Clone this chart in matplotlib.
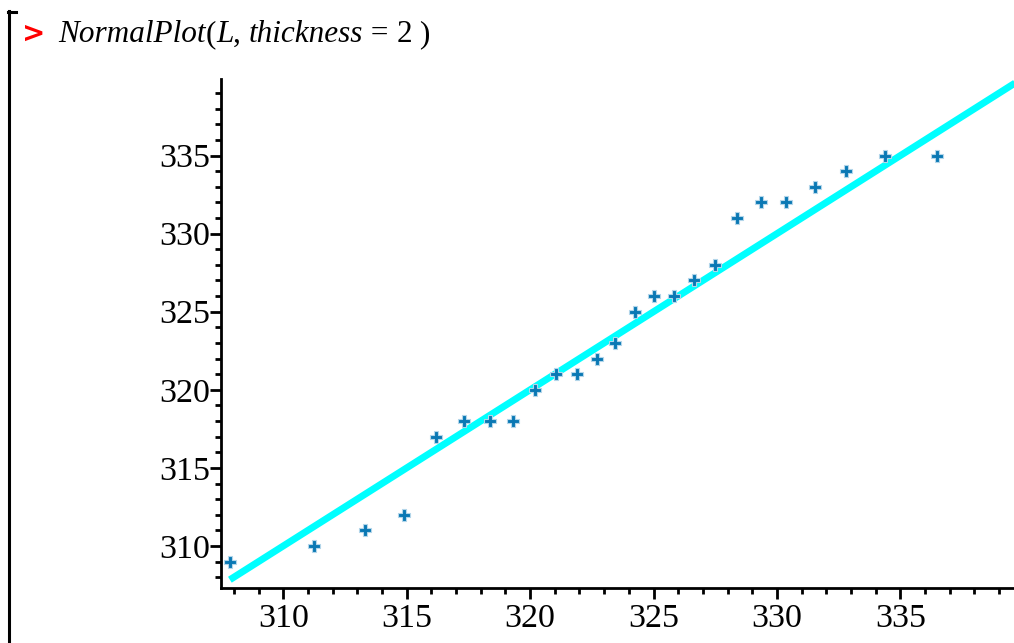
import matplotlib.pyplot as plt
from matplotlib.ticker import MultipleLocator
from matplotlib.lines import Line2D

# normal quantiles (scaled) vs sorted sample L
quantiles = [307.83, 311.26, 313.32, 314.90, 316.19, 317.33, 318.38, 319.32,
             320.20, 321.05, 321.89, 322.70, 323.44, 324.25, 325.03, 325.83,
             326.65, 327.49, 328.40, 329.37, 330.37, 331.52, 332.80, 334.38,
             336.50]
L = [309, 310, 311, 312, 317, 318, 318, 318, 320, 321, 321, 322, 323,
     325, 326, 326, 327, 328, 331, 332, 332, 333, 334, 335, 335]
line_x = [307.84, 341.0]
line_y = [307.84, 341.0]
major_ticks = [310, 315, 320, 325, 330, 335]

serif = 'Liberation Serif'

fig = plt.figure(figsize=(10.14, 6.43), dpi=100)
ax = fig.add_axes([221 / 1014, 55 / 643, 1 - 221 / 1014, (588 - 79) / 643])

ax.plot(line_x, line_y, color='#00ffff', lw=5, solid_capstyle='butt', zorder=2)
ax.plot(quantiles, L, ls='none', marker='P', ms=8, mfc='#0a78b4',
        mec='#b3d6ea', mew=0.8, zorder=3)

ax.set_xlim(307.48, 339.6)
ax.set_ylim(307.31, 339.9)

for s in ['top', 'right']:
    ax.spines[s].set_visible(False)
for s in ['left', 'bottom']:
    ax.spines[s].set_linewidth(2)
    ax.spines[s].set_color('black')

ax.set_xticks(major_ticks)
ax.set_yticks(major_ticks)
ax.xaxis.set_minor_locator(MultipleLocator(1))
ax.yaxis.set_minor_locator(MultipleLocator(1))
ax.tick_params(which='major', length=8, width=2, color='black')
ax.tick_params(which='minor', length=4, width=2, color='black')
ax.tick_params(axis='x', which='major', pad=3)
ax.tick_params(axis='y', which='major', pad=0)
for lab in ax.get_xticklabels() + ax.get_yticklabels():
    lab.set_fontfamily(serif)
    lab.set_fontsize(24.5)

# Maple prompt line
fig.text(22 / 1014, 1 - 42 / 643, '>', color='#ff0000', fontsize=20,
         fontweight='bold', family='DejaVu Sans', va='baseline')

pieces = [('NormalPlot', 'italic'), ('(', 'normal'), ('L', 'italic'),
          (', ', 'normal'), ('thickness', 'italic'), (' = ', 'normal'),
          ('2', 'normal'), (' )', 'normal')]
fig.canvas.draw()
renderer = fig.canvas.get_renderer()
xpos = 58
for txt, style in pieces:
    t = fig.text(xpos / 1014, 1 - 42 / 643, txt, family=serif, style=style,
                 fontsize=22.5, va='baseline', color='black')
    bb = t.get_window_extent(renderer)
    xpos = bb.x1

# left bracket of the execution group
fig.add_artist(Line2D([9 / 1014, 9 / 1014], [0, 1 - 11 / 643],
                      color='black', lw=2.2, transform=fig.transFigure))
fig.add_artist(Line2D([8 / 1014, 16 / 1014], [1 - 12 / 643, 1 - 12 / 643],
                      color='black', lw=2.2, transform=fig.transFigure))

fig.savefig('out.png', dpi=100)
